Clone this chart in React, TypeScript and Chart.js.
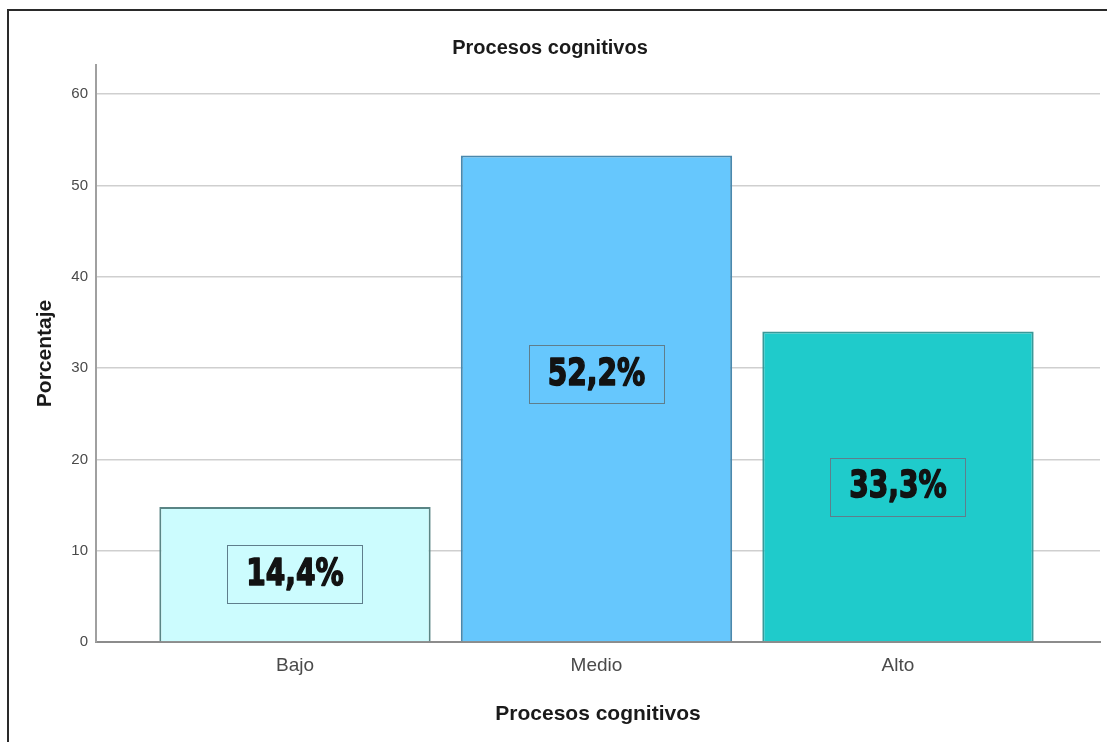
import React, { useEffect, useRef } from 'react';
import { Chart, registerables } from 'chart.js';

Chart.register(...registerables);

// ---- data ----
const categories = ['Bajo', 'Medio', 'Alto'];
const percentages = [14.8, 53.3, 34.0];
const labelTexts = ['14,4%', '52,2%', '33,3%'];
const labelAnchors = [7.4, 29.3, 17.0];
const yTicks = [0, 10, 20, 30, 40, 50, 60];
const barColors = ['#ccfcfe', '#66c7fd', '#1fcbcb'];
const barBorders = ['#5a8585', '#4a88ad', '#3a9898'];

const boxLabelPlugin = {
  id: 'boxLabels',
  afterDatasetsDraw(chart: any) {
    const ctx = chart.ctx;
    const meta = chart.getDatasetMeta(0);
    const yScale = chart.scales.y;
    meta.data.forEach((bar: any, i: number) => {
      const cx = bar.x;
      const cy = yScale.getPixelForValue(labelAnchors[i]);
      const w = 135;
      const h = 58;
      ctx.save();
      ctx.strokeStyle = '#5f7e8c';
      ctx.lineWidth = 1;
      ctx.strokeRect(Math.round(cx - w / 2) + 0.5, Math.round(cy - h / 2) + 0.5, w, h);
      ctx.translate(cx, cy + 1);
      ctx.scale(0.76, 1);
      ctx.font = 'bold 37px "DejaVu Sans"';
      ctx.textAlign = 'center';
      ctx.textBaseline = 'middle';
      ctx.fillStyle = '#121212';
      ctx.strokeStyle = '#121212';
      ctx.lineWidth = 1.6;
      ctx.lineJoin = 'round';
      ctx.strokeText(labelTexts[i], 0, 0);
      ctx.fillText(labelTexts[i], 0, 0);
      ctx.restore();
    });
  },
};

export default function App() {
  const canvasRef = useRef<HTMLCanvasElement | null>(null);

  useEffect(() => {
    document.body.style.margin = '0';
    document.body.style.overflow = 'hidden';
    const canvas = canvasRef.current;
    if (!canvas) return;
    const chart = new Chart(canvas, {
      type: 'bar',
      data: {
        datasets: [
          {
            data: categories.map((_, i) => ({ x: i, y: percentages[i] })),
            backgroundColor: barColors,
            borderColor: barBorders,
            borderWidth: 2,
            barPercentage: 0.9,
            categoryPercentage: 1,
          } as any,
        ],
      },
      options: {
        animation: false,
        responsive: false,
        maintainAspectRatio: false,
        devicePixelRatio: 1,
        layout: { padding: { top: 0, left: 0, right: 7, bottom: 0 } },
        plugins: {
          legend: { display: false },
          tooltip: { enabled: false },
          title: {
            display: true,
            text: 'Procesos cognitivos',
            color: '#1a1a1a',
            font: { family: '"Liberation Sans", Arial, sans-serif', size: 20, weight: 'bold' },
            padding: { top: 36, bottom: 5 },
          },
        },
        scales: {
          x: {
            type: 'linear',
            offset: false,
            min: -0.66,
            max: 2.67,
            afterBuildTicks: (s: any) => {
              s.ticks = categories.map((_, i) => ({ value: i }));
            },
            afterFit: (s: any) => {
              s.height = 100;
            },
            grid: { display: false, drawTicks: false, offset: false },
            border: { display: true, color: '#8c8c8c', width: 2 },
            ticks: {
              callback: (v: any) => categories[v as number] ?? '',
              color: '#4a4a4a',
              font: { family: '"Liberation Sans", Arial, sans-serif', size: 19 },
              padding: 12,
              maxRotation: 0,
            },
            title: {
              display: true,
              text: 'Procesos cognitivos',
              color: '#1a1a1a',
              font: { family: '"Liberation Sans", Arial, sans-serif', size: 21, weight: 'bold' },
              padding: { top: 0, bottom: 15 },
            },
          },
          y: {
            min: 0,
            max: 63.2,
            afterBuildTicks: (s: any) => {
              s.ticks = yTicks.map((v) => ({ value: v }));
            },
            afterFit: (s: any) => {
              s.width = 96;
            },
            grid: { color: '#cfcfcf', lineWidth: 1.5, drawTicks: false },
            border: { display: true, color: '#a0a0a0', width: 2 },
            ticks: {
              color: '#4a4a4a',
              font: { family: '"Liberation Sans", Arial, sans-serif', size: 15 },
              padding: 8,
            },
            title: {
              display: true,
              text: 'Porcentaje',
              color: '#1a1a1a',
              font: { family: '"Liberation Sans", Arial, sans-serif', size: 21, weight: 'bold' },
              padding: { top: 33, bottom: 0 },
            },
          },
        },
      },
      plugins: [boxLabelPlugin],
    } as any);
    return () => chart.destroy();
  }, []);

  return (
    <div style={{ position: 'relative', width: 1107, height: 742, overflow: 'hidden', background: '#fff' }}>
      <canvas ref={canvasRef} width={1107} height={742} style={{ display: 'block', width: 1107, height: 742 }} />
      <div
        style={{
          position: 'absolute',
          left: 7,
          top: 9,
          width: 1110,
          height: 740,
          borderTop: '2px solid #2a2a2a',
          borderLeft: '2px solid #2a2a2a',
          pointerEvents: 'none',
        }}
      />
    </div>
  );
}
